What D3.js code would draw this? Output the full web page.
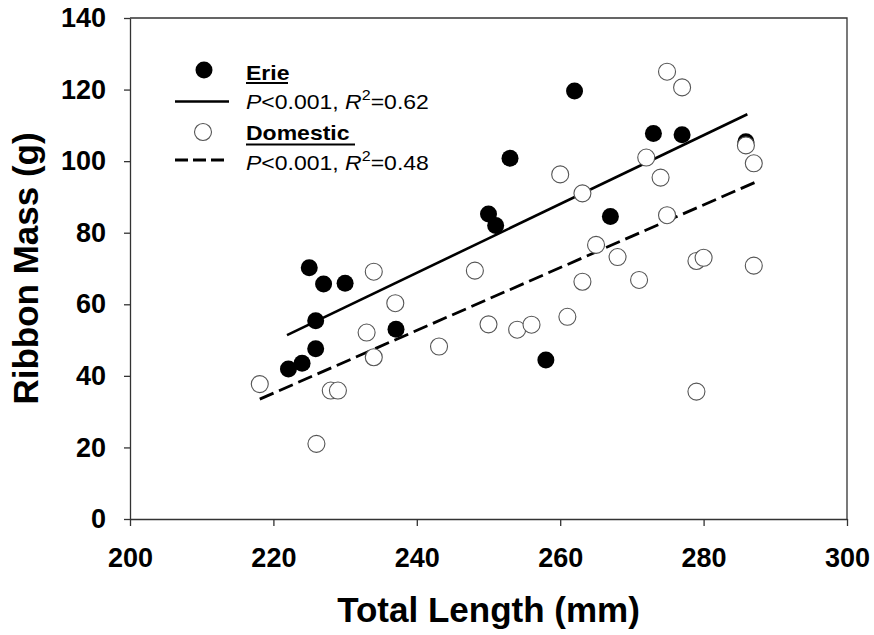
<!DOCTYPE html>
<html>
<head>
<meta charset="utf-8">
<script src="https://cdn.jsdelivr.net/npm/d3@7"></script>
<style>
  body { margin: 0; background: #fff; }
  svg { display: block; font-family: "Liberation Sans", Arial, sans-serif; }
</style>
</head>
<body>
<div id="chart"></div>
<script>
// Ribbon mass vs total length, Erie vs Domestic

// Erie (filled)
const erieLength = [222.1, 224.0, 225.9, 225.9, 225.0, 227.0, 230.0, 237.1, 250.0, 251.0, 253.0, 258.0, 262.0, 267.0, 273.0, 277.0, 285.9];
const erieMass   = [41.9, 43.5, 47.6, 55.4, 70.2, 65.7, 65.9, 53.0, 85.2, 82.0, 100.8, 44.4, 119.6, 84.5, 107.7, 107.4, 105.4];

// Domestic (open)
const domLength = [218.1, 226.0, 228.0, 229.0, 233.0, 234.0, 234.0, 237.0, 243.1, 248.1, 250.0, 254.0, 256.0, 261.0, 260.0, 263.1,
                   263.1, 265.0, 268.0, 271.0, 272.0, 274.0, 274.9, 274.9, 277.0, 279.0, 280.0, 279.0, 285.9, 287.0, 287.0];
const domMass   = [37.7, 21.0, 35.9, 35.9, 52.1, 45.2, 69.1, 60.3, 48.2, 69.4, 54.4, 52.9, 54.3, 56.5, 96.3, 91.0,
                   66.3, 76.6, 73.2, 66.8, 101.0, 95.4, 125.0, 84.9, 120.6, 72.1, 73.0, 35.6, 104.4, 99.4, 70.8];

// fitted lines (end points)
const erieFitX = [221.9, 286.1];
const erieFitY = [51.4, 113.1];
const domFitX = [218.1, 287.1];
const domFitY = [33.5, 94.0];

const xTicks = [200, 220, 240, 260, 280, 300];
const yTicks = [0, 20, 40, 60, 80, 100, 120, 140];

const W = 874, H = 635;
const margin = { top: 18, right: 27, bottom: 116, left: 130 };
const width = W - margin.left - margin.right;
const height = H - margin.top - margin.bottom;

const svg = d3.select("#chart").append("svg")
    .attr("width", W)
    .attr("height", H);

const g = svg.append("g")
    .attr("transform", `translate(${margin.left},${margin.top})`);

const x = d3.scaleLinear().domain([200, 300]).range([0, width]);
const y = d3.scaleLinear().domain([0, 140]).range([height, 0]);

const axisColor = "#333";

// frame (top + right)
g.append("path")
    .attr("d", `M0,0H${width}V${height}`)
    .attr("fill", "none")
    .attr("stroke", axisColor)
    .attr("stroke-width", 1.3);

// X axis
const xAxis = g.append("g")
    .attr("transform", `translate(0,${height})`)
    .call(d3.axisBottom(x).tickValues(xTicks).tickSize(7).tickPadding(22).tickSizeOuter(0));

// Y axis
const yAxis = g.append("g")
    .call(d3.axisLeft(y).tickValues(yTicks).tickSize(6).tickPadding(18).tickSizeOuter(0));

[xAxis, yAxis].forEach(ax => {
    ax.select(".domain").attr("stroke", axisColor).attr("stroke-width", 1.3);
    ax.selectAll(".tick line").attr("stroke", axisColor).attr("stroke-width", 1.3);
    ax.selectAll(".tick text")
        .attr("fill", "#000")
        .style("font-family", "'Liberation Sans', Arial, sans-serif")
        .style("font-size", "27px")
        .style("font-weight", "bold");
});

// Axis titles
svg.append("text")
    .attr("x", margin.left + width / 2)
    .attr("y", 622)
    .attr("text-anchor", "middle")
    .style("font-size", "35px")
    .style("font-weight", "bold")
    .text("Total Length (mm)");

svg.append("text")
    .attr("transform", `translate(38,${margin.top + height / 2}) rotate(-90)`)
    .attr("text-anchor", "middle")
    .style("font-size", "35px")
    .style("font-weight", "bold")
    .text("Ribbon Mass (g)");

// regression lines
const line = d3.line().x(d => x(d[0])).y(d => y(d[1]));

g.append("path")
    .datum(d3.zip(erieFitX, erieFitY))
    .attr("d", line)
    .attr("fill", "none")
    .attr("stroke", "#000")
    .attr("stroke-width", 2.6);

g.append("path")
    .datum(d3.zip(domFitX, domFitY))
    .attr("d", line)
    .attr("fill", "none")
    .attr("stroke", "#000")
    .attr("stroke-width", 2.8)
    .attr("stroke-dasharray", "15,6");

const r = 8.5;

// Erie points
g.selectAll(".erie")
    .data(d3.zip(erieLength, erieMass))
    .enter().append("circle")
    .attr("class", "erie")
    .attr("cx", d => x(d[0]))
    .attr("cy", d => y(d[1]))
    .attr("r", r)
    .attr("fill", "#000");

// Domestic points
g.selectAll(".dom")
    .data(d3.zip(domLength, domMass))
    .enter().append("circle")
    .attr("class", "dom")
    .attr("cx", d => x(d[0]))
    .attr("cy", d => y(d[1]))
    .attr("r", r)
    .attr("fill", "#fff")
    .attr("stroke", "#555")
    .attr("stroke-width", 1.1);

// Legend
const leg = svg.append("g");
const sx = 1.15; // reference legend text is a little wider than Arial

function legText(yPos) {
    return leg.append("text")
        .attr("transform", `translate(246,${yPos}) scale(${sx},1)`)
        .style("font-size", "20px");
}

leg.append("circle").attr("cx", 204).attr("cy", 70).attr("r", r).attr("fill", "#000");
legText(80).style("font-weight", "bold").text("Erie");
leg.append("line").attr("x1", 246).attr("x2", 288).attr("y1", 83).attr("y2", 83)
    .attr("stroke", "#000").attr("stroke-width", 2);

leg.append("line").attr("x1", 175).attr("x2", 229).attr("y1", 101.5).attr("y2", 101.5)
    .attr("stroke", "#000").attr("stroke-width", 2.6);

function statText(yPos, r2) {
    const t = legText(yPos);
    t.append("tspan").style("font-style", "italic").text("P");
    t.append("tspan").text("<0.001, ");
    t.append("tspan").style("font-style", "italic").text("R");
    t.append("tspan").attr("dy", -9).style("font-size", "14px").text("2");
    t.append("tspan").attr("dy", 9).text("=" + r2);
}
statText(109, "0.62");

leg.append("circle").attr("cx", 203).attr("cy", 132).attr("r", r)
    .attr("fill", "#fff").attr("stroke", "#555").attr("stroke-width", 1.1);
legText(139.5).style("font-weight", "bold").text("Domestic");
leg.append("line").attr("x1", 246).attr("x2", 355).attr("y1", 144.5).attr("y2", 144.5)
    .attr("stroke", "#000").attr("stroke-width", 2);

leg.append("line").attr("x1", 175).attr("x2", 229).attr("y1", 160).attr("y2", 160)
    .attr("stroke", "#000").attr("stroke-width", 2.8).attr("stroke-dasharray", "13,5");
statText(169.5, "0.48");
</script>
</body>
</html>
